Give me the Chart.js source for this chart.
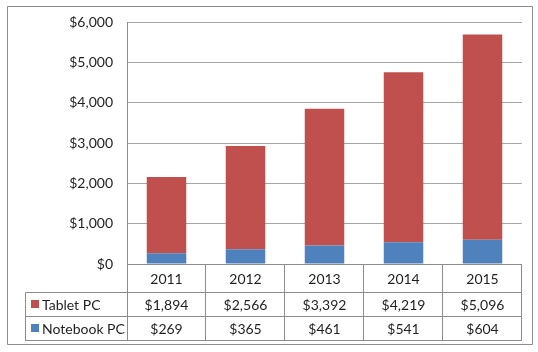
<!DOCTYPE html>
<html>
<head>
<meta charset="utf-8">
<script src="https://cdn.jsdelivr.net/npm/chart.js@4"></script>
<style>
html,body{margin:0;padding:0;background:#fff;}
#wrap{width:538px;height:352px;}
</style>
</head>
<body>
<div id="wrap"><canvas id="c" width="538" height="352"></canvas></div>
<script>
const categories = ['2011', '2012', '2013', '2014', '2015'];
const seriesNames = ['Tablet PC', 'Notebook PC'];
const tabletPC = [1894, 2566, 3392, 4219, 5096];
const notebookPC = [269, 365, 461, 541, 604];
const seriesColors = ['#C0504D', '#4F81BD'];
const yTicks = [0, 1000, 2000, 3000, 4000, 5000, 6000];

const FONT = '14px Lato, "Open Sans", sans-serif';
const TEXT = '#1f1f1f';
const LINE = '#8c8c8c';

function money(v){ return '$' + v.toLocaleString('en-US'); }

const tablePlugin = {
  id: 'dataTable',
  afterDraw(chart) {
    const ctx = chart.ctx;
    const x = chart.scales.x;
    const area = chart.chartArea;
    const n = categories.length;
    const step = (area.right - area.left) / n;
    const top = area.bottom;
    const rowH = [28, 24, 24];
    const r1 = top + rowH[0], r2 = r1 + rowH[1], r3 = r2 + rowH[2];
    const tableLeft = 25.5;
    ctx.save();
    ctx.strokeStyle = LINE;
    ctx.lineWidth = 1;
    ctx.beginPath();
    // outer border
    ctx.rect(7.5, 6.5, 525, 338);
    ctx.stroke();
    ctx.beginPath();
    // horizontal lines
    const L = Math.round(area.left) + 0.5;
    const R = Math.round(area.right) - 0.5;
    [r1, r2, r3].forEach(y => {
      const yy = Math.round(y) + 0.5;
      ctx.moveTo(tableLeft, yy); ctx.lineTo(R, yy);
    });
    ctx.moveTo(L, Math.round(top) + 0.5); ctx.lineTo(R, Math.round(top) + 0.5);
    // vertical lines
    ctx.moveTo(L, Math.round(area.top)); ctx.lineTo(L, Math.round(r3) + 1);
    ctx.moveTo(tableLeft, Math.round(r1) + 0.5); ctx.lineTo(tableLeft, Math.round(r3) + 1);
    for (let i = 1; i <= n; i++) {
      const xx = Math.round(area.left + step * i) - 0.5;
      ctx.moveTo(xx, Math.round(top)); ctx.lineTo(xx, Math.round(r3) + 1);
    }
    ctx.stroke();
    // text
    ctx.fillStyle = TEXT;
    ctx.font = FONT;
    ctx.textAlign = 'center';
    ctx.textBaseline = 'middle';
    const rowsVals = [tabletPC, notebookPC];
    categories.forEach((c, i) => {
      const cx = x.getPixelForValue(i);
      ctx.fillText(c, cx, (top + r1) / 2 + 1);
      ctx.fillText(money(rowsVals[0][i]), cx, (r1 + r2) / 2 + 1);
      ctx.fillText(money(rowsVals[1][i]), cx, (r2 + r3) / 2 + 1);
    });
    // legend keys
    ctx.textAlign = 'left';
    [[r1, r2], [r2, r3]].forEach((rr, k) => {
      const cy = (rr[0] + rr[1]) / 2;
      ctx.fillStyle = seriesColors[k];
      ctx.fillRect(31, Math.round(cy) - 4, 8, 8);
      ctx.fillStyle = TEXT;
      ctx.fillText(seriesNames[k], 42, cy + 1);
    });
    ctx.restore();
  }
};

new Chart(document.getElementById('c'), {
  type: 'bar',
  data: {
    labels: categories,
    datasets: [
      { label: seriesNames[1], data: notebookPC, backgroundColor: seriesColors[1], order: 1 },
      { label: seriesNames[0], data: tabletPC, backgroundColor: seriesColors[0], order: 2 }
    ]
  },
  options: {
    responsive: false,
    animation: false,
    events: [],
    layout: { padding: { left: 0, right: 16, top: 21, bottom: 88 } },
    plugins: { legend: { display: false }, tooltip: { enabled: false } },
    datasets: { bar: { categoryPercentage: 1, barPercentage: 0.5 } },
    scales: {
      x: {
        stacked: true,
        display: false
      },
      y: {
        stacked: true,
        min: 0,
        max: 6000,
        afterBuildTicks(scale) { scale.ticks = yTicks.map(v => ({ value: v })); },
        afterFit(scale) { scale.width = 127; },
        ticks: {
          padding: 14,
          color: TEXT,
          font: { family: 'Lato, "Open Sans", sans-serif', size: 14 },
          callback: v => money(v)
        },
        grid: { color: '#a6a6a6', drawTicks: false },
        border: { display: false }
      }
    }
  },
  plugins: [tablePlugin]
});
</script>
</body>
</html>
